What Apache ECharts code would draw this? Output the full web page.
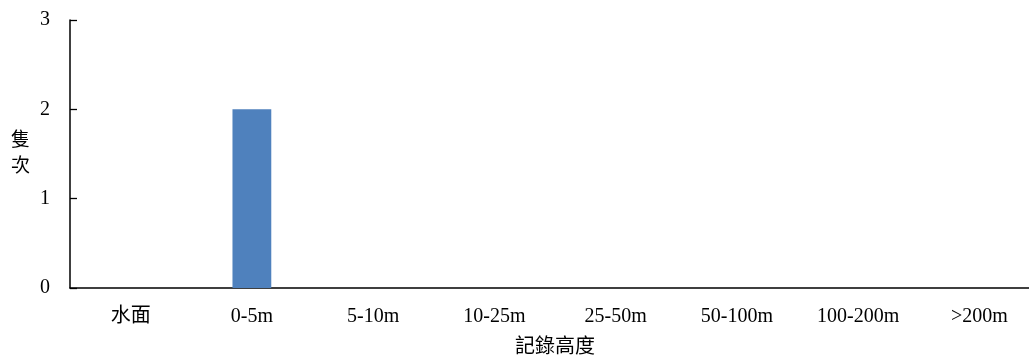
<!DOCTYPE html>
<html><head><meta charset="utf-8">
<script src="https://cdn.jsdelivr.net/npm/echarts@6/dist/echarts.min.js"></script>
<style>html,body{margin:0;padding:0;background:#fff}#c{width:1029px;height:356px}</style>
</head><body><div id="c"></div>
<script>
const categories = ['水面', '0-5m', '5-10m', '10-25m', '25-50m', '50-100m', '100-200m', '>200m'];
const counts = [0, 2, 0, 0, 0, 0, 0, 0];
const yTicks = [0, 1, 2, 3];
const xName = '記錄高度';
const yName = '隻\n次';

const font = '"Liberation Serif", "Noto Sans CJK TC", serif';
const chart = echarts.init(document.getElementById('c'));
chart.setOption({
  animation: false,
  backgroundColor: '#fff',
  grid: { left: 70, right: -11, top: 20, bottom: 68, containLabel: false, outerBoundsMode: 'none' },
  xAxis: {
    type: 'category', data: categories,
    name: xName, nameLocation: 'middle', nameGap: 50,
    nameTextStyle: { fontFamily: font, fontSize: 20, color: '#000' },
    axisLine: { lineStyle: { color: '#000', width: 1.5 } },
    axisTick: { inside: true, length: 5, lineStyle: { color: '#000', width: 1.3 } },
    axisLabel: { fontFamily: font, fontSize: 20, color: '#000', margin: 19 }
  },
  yAxis: {
    type: 'value', min: yTicks[0], max: yTicks[yTicks.length - 1], interval: 1,
    name: yName, nameLocation: 'middle', nameGap: 40, nameRotate: 0,
    nameTextStyle: { fontFamily: font, fontSize: 19, color: '#000', lineHeight: 26, padding: [12, 0, 0, 0] },
    axisLine: { show: true, lineStyle: { color: '#000', width: 1.5 } },
    axisTick: { show: true, inside: true, length: 7, lineStyle: { color: '#000', width: 1.3 } },
    axisLabel: { fontFamily: font, fontSize: 20, color: '#000', margin: 20 },
    splitLine: { show: false }
  },
  series: [{
    type: 'bar', data: counts, barWidth: '32%',
    itemStyle: { color: '#4F81BD' }
  }]
});
</script></body></html>
